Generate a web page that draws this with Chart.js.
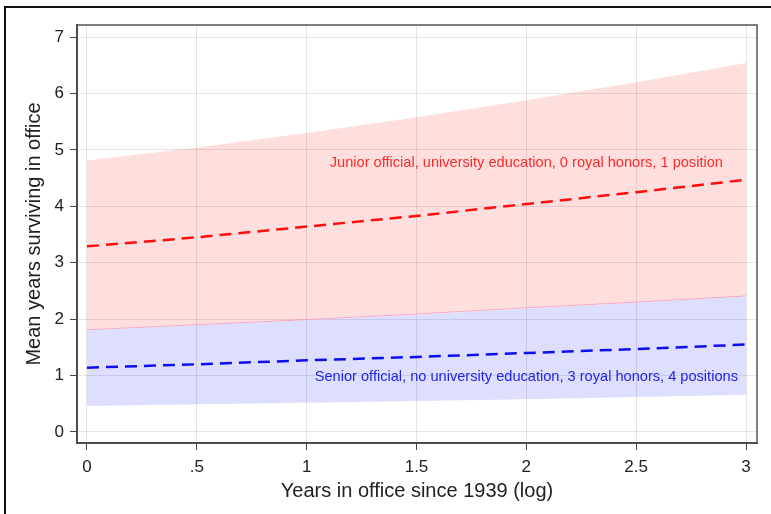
<!DOCTYPE html>
<html>
<head>
<meta charset="utf-8">
<script src="https://cdn.jsdelivr.net/npm/chart.js@4.4.1/dist/chart.umd.min.js"></script>
<style>
    html, body { margin: 0; padding: 0; background: #fff; }
    #wrap { position: relative; width: 771px; height: 514px; }
    #frame { position: absolute; left: 4px; top: 6px; width: 800px; height: 600px;
             border-left: 2px solid #111; border-top: 2px solid #111; pointer-events: none; }
</style>
</head>
<body>
<div id="wrap">
    <canvas id="survChart" width="771" height="514"></canvas>
    <div id="frame"></div>
</div>
<script>
// years in office since 1939 (log)
var xValues = [0, 0.5, 1, 1.5, 2, 2.5, 3];
// junior official, university education, 0 royal honors, 1 position
var juniorMean = [3.29, 3.45, 3.64, 3.83, 4.04, 4.25, 4.47];
var juniorUpper = [4.81, 5.04, 5.30, 5.58, 5.88, 6.20, 6.54];
var juniorLower = [1.81, 1.90, 1.99, 2.09, 2.20, 2.30, 2.41];
// senior official, no university education, 3 royal honors, 4 positions
var seniorMean = [1.14, 1.20, 1.27, 1.33, 1.40, 1.47, 1.55];
var seniorUpper = [1.80, 1.89, 1.98, 2.08, 2.19, 2.29, 2.40];
var seniorLower = [0.46, 0.49, 0.52, 0.55, 0.58, 0.62, 0.66];

var xTickValues = [0, 0.5, 1, 1.5, 2, 2.5, 3];
var xTickLabels = ['0', '.5', '1', '1.5', '2', '2.5', '3'];
var yTickValues = [0, 1, 2, 3, 4, 5, 6, 7];

var toPoints = function (ys) {
    return xValues.map(function (x, i) { return { x: x, y: ys[i] }; });
};

var labelsPlugin = {
    id: 'curveLabels',
    afterDatasetsDraw: function (chart) {
        var ctx = chart.ctx;
        var xs = chart.scales.x, ys = chart.scales.y;
        ctx.save();
        ctx.font = '14.6px "Liberation Sans", Arial, sans-serif';
        ctx.textAlign = 'center';
        ctx.textBaseline = 'middle';
        ctx.fillStyle = '#ff2a2a';
        ctx.fillText('Junior official, university education, 0 royal honors, 1 position',
            xs.getPixelForValue(2.0), ys.getPixelForValue(4.77));
        ctx.fillStyle = '#2424e6';
        ctx.fillText('Senior official, no university education, 3 royal honors, 4 positions',
            xs.getPixelForValue(2.0), ys.getPixelForValue(0.975));
        // plot region box
        var a = chart.chartArea;
        ctx.strokeStyle = '#555';
        ctx.lineWidth = 1.5;
        ctx.strokeRect(a.left, a.top, a.right - a.left, a.bottom - a.top);
        ctx.restore();
    }
};

var bandLine = { borderWidth: 0, pointRadius: 0 };

var oChart = new Chart(document.getElementById('survChart'), {
    type: 'line',
    data: {
        datasets: [
            Object.assign({ label: 'junior upper', data: toPoints(juniorUpper), fill: 1,
                backgroundColor: 'rgba(255, 0, 0, 0.13)' }, bandLine),
            { label: 'junior lower', data: toPoints(juniorLower), fill: false,
                borderWidth: 1, borderColor: 'rgba(240, 160, 200, 0.8)', pointRadius: 0 },
            Object.assign({ label: 'senior upper', data: toPoints(seniorUpper), fill: 3,
                backgroundColor: 'rgba(0, 0, 255, 0.13)' }, bandLine),
            Object.assign({ label: 'senior lower', data: toPoints(seniorLower), fill: false }, bandLine),
            { label: 'junior mean', data: toPoints(juniorMean), fill: false,
                borderColor: '#ff1010', borderWidth: 2.5, borderDash: [12, 7], pointRadius: 0 },
            { label: 'senior mean', data: toPoints(seniorMean), fill: false,
                borderColor: '#1010f0', borderWidth: 2.5, borderDash: [12, 7], pointRadius: 0 }
        ]
    },
    options: {
        responsive: false,
        animation: false,
        layout: { padding: { top: 25, right: 14, left: 0, bottom: 0 } },
        plugins: { legend: { display: false }, tooltip: { enabled: false } },
        scales: {
            x: {
                type: 'linear',
                min: -0.0455,
                max: 3.05,
                afterBuildTicks: function (scale) {
                    scale.ticks = xTickValues.map(function (v) { return { value: v }; });
                },
                afterFit: function (scale) { scale.height = 71; },
                ticks: {
                    autoSkip: false,
                    maxRotation: 0,
                    padding: 7,
                    color: '#222',
                    font: { size: 17, family: '"Liberation Sans", Arial, sans-serif' },
                    callback: function (value, index) { return xTickLabels[index]; }
                },
                grid: { color: 'rgba(0, 0, 0, 0.1)', tickColor: '#444', tickLength: 7, lineWidth: 1 },
                border: { color: '#333', width: 2 },
                title: {
                    display: true,
                    text: 'Years in office since 1939 (log)',
                    color: '#222',
                    font: { size: 20, family: '"Liberation Sans", Arial, sans-serif' },
                    padding: { top: 0, bottom: 11 }
                }
            },
            y: {
                min: -0.195,
                max: 7.213,
                afterBuildTicks: function (scale) {
                    scale.ticks = yTickValues.map(function (v) { return { value: v }; });
                },
                afterFit: function (scale) { scale.width = 77; },
                ticks: {
                    padding: 6,
                    color: '#222',
                    font: { size: 17, family: '"Liberation Sans", Arial, sans-serif' },
                    callback: function (value) { return String(value); }
                },
                grid: { color: 'rgba(0, 0, 0, 0.1)', tickColor: '#444', tickLength: 7, lineWidth: 1 },
                border: { color: '#333', width: 2 },
                title: {
                    display: true,
                    text: 'Mean years surviving in office',
                    color: '#222',
                    font: { size: 20, family: '"Liberation Sans", Arial, sans-serif' },
                    padding: { top: 22, bottom: 0 }
                }
            }
        }
    },
    plugins: [labelsPlugin]
});
</script>
</body>
</html>
